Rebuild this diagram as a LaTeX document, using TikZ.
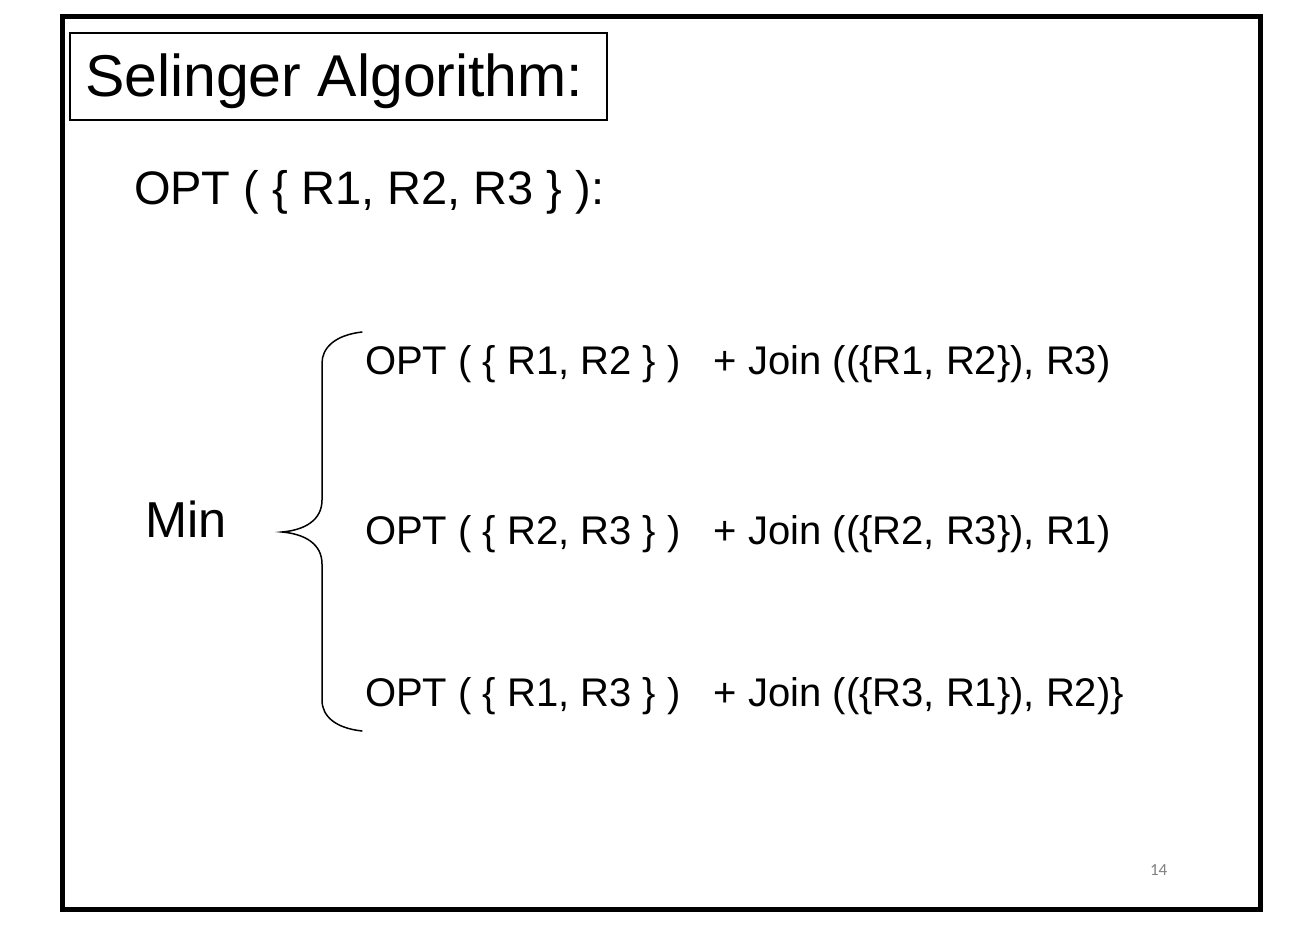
\documentclass[tikz,border=0pt]{standalone}
\usepackage{fontspec}
\setmainfont{Liberation Sans}
\newfontfamily\pagefont{Carlito}
\begin{document}
\begin{tikzpicture}[x=1pt,y=-1pt,
  frame/.style={draw=black,line width=5pt},
  titlebox/.style={draw=black,line width=1.6pt},
  txt/.style={anchor=base west,inner sep=0pt,outer sep=0pt},
  rowtxt/.style={txt,font=\fontsize{40}{48}\selectfont},
  bracestyle/.style={draw=black,line width=1.5pt,line cap=round}]
\useasboundingbox (0,0) rectangle (1316,930);
\draw[frame] (62,16) rectangle (1260,909);
\draw[titlebox] (70,33) rectangle (607,120);
\node[txt,font=\fontsize{59}{70}\selectfont] (title) at (85,96) {Selinger Algorithm:};
\node[txt,font=\fontsize{47}{56}\selectfont] (head) at (134,204) {OPT ( \{ R1, R2, R3 \} ):};
\node[txt,font=\fontsize{50.5}{60}\selectfont] (min) at (145,537) {Min};
\node[rowtxt] (r1) at (365,374) {OPT ( \{ R1, R2 \} )\hspace{22pt} + Join ((\{R1, R2\}), R3)};
\node[rowtxt] (r2) at (365,544) {OPT ( \{ R2, R3 \} )\hspace{22pt} + Join ((\{R2, R3\}), R1)};
\node[rowtxt] (r3) at (365,706) {OPT ( \{ R1, R3 \} )\hspace{22pt} + Join ((\{R3, R1\}), R2)\}};
\node[txt,font=\pagefont\fontsize{17}{20}\selectfont,text=black!50] (pg) at (1150,875) {14};
\coordinate (btop) at (362,332);
\coordinate (btip) at (282,532);
\coordinate (bbot) at (362,731);
\draw[bracestyle] (btop) .. controls (335,335) and (322,348) .. (322,363) -- (322,500)
  .. controls (322,520) and (305,530) .. (btip)
  .. controls (305,534) and (322,544) .. (322,564) -- (322,700)
  .. controls (322,716) and (335,728) .. (bbot);
\end{tikzpicture}
\end{document}
